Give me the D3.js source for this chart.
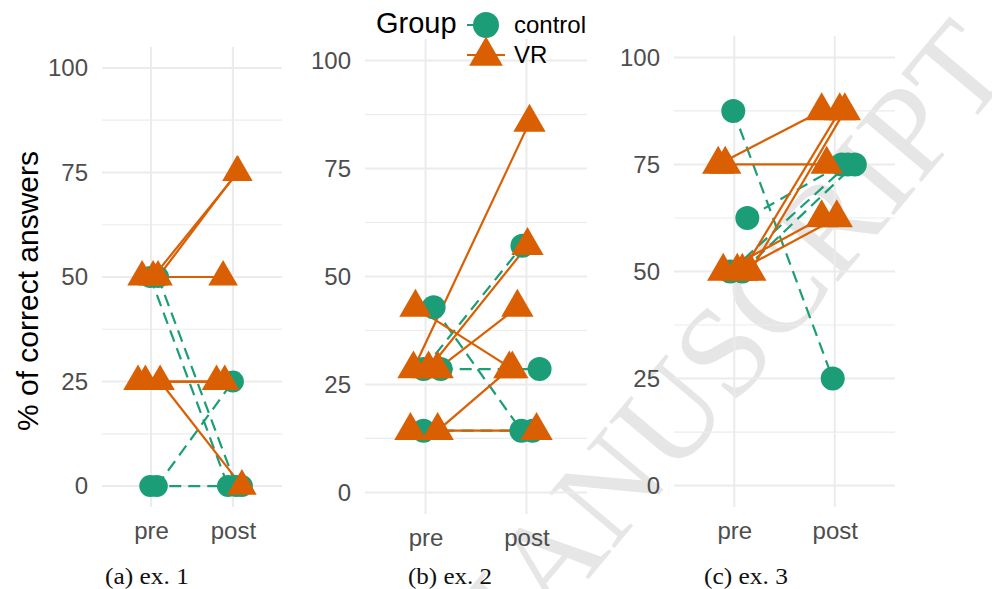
<!DOCTYPE html>
<html><head><meta charset="utf-8">
<script src="https://cdn.jsdelivr.net/npm/d3@7"></script>
<style>html,body{margin:0;padding:0;background:#fff}svg{display:block}</style>
</head><body>
<svg id="chart" width="992" height="589"></svg>
<script>
// ---------- data ----------
const categories = ["pre", "post"];
const yTicks = [0, 25, 50, 75, 100];
const yMinorTicks = [12.5, 37.5, 62.5, 87.5];
const groups = ["control", "VR"];
const captions = ["(a) ex. 1", "(b) ex. 2", "(c) ex. 3"];

// each participant: [pre, post] in % correct
const ex1Control = [[50, 0], [50, 0], [0, 25], [0, 0]];
const ex1VR = [[50, 75], [50, 75], [50, 50], [25, 25], [25, 25], [25, 0]];
const ex2Control = [[42.86, 14.29], [28.57, 57.14], [28.57, 28.57], [14.29, 14.29]];
const ex2VR = [[42.86, 28.57], [28.57, 85.71], [28.57, 57.14], [28.57, 42.86], [14.29, 28.57], [14.29, 14.29]];
const ex3Control = [[87.5, 25], [62.5, 75], [50, 75], [50, 75]];
const ex3VR = [[75, 87.5], [75, 75], [50, 87.5], [50, 87.5], [50, 62.5], [50, 62.5]];

// horizontal jitter (category units): [pre, post]
const ex1ControlJitter = [[-0.01, -0.06], [0.085, 0.04], [0.07, 0.0], [-0.01, 0.11]];
const ex1VRJitter = [[0.085, 0.05], [0.025, 0.06], [-0.11, -0.12], [-0.16, -0.2], [-0.07, -0.1], [0.11, 0.11]];
const ex2ControlJitter = [[0.08, -0.05], [-0.02, -0.04], [0.15, 0.13], [-0.02, 0.06]];
const ex2VRJitter = [[-0.1, -0.14], [-0.12, 0.03], [0.03, 0.01], [0.12, -0.09], [0.12, -0.17], [-0.15, 0.1]];
const ex3ControlJitter = [[-0.01, -0.02], [0.13, 0.07], [-0.04, 0.13], [0.08, 0.2]];
const ex3VRJitter = [[-0.16, -0.13], [-0.09, -0.08], [0.08, 0.05], [0.16, 0.1], [-0.11, -0.13], [0.03, 0.02]];

// ---------- layout / style ----------
const colors = {control: "#1b9e77", VR: "#d95f02"};
const panels = [
  {ctrl: ex1Control, vr: ex1VR, cj: ex1ControlJitter, vj: ex1VRJitter, x0: 102, x1: 282, y0: 47, y1: 507, r: 11, lab: 544, cap: 147},
  {ctrl: ex2Control, vr: ex2VR, cj: ex2ControlJitter, vj: ex2VRJitter, x0: 365, x1: 587, y0: 39, y1: 514, r: 12, lab: 551, cap: 450},
  {ctrl: ex3Control, vr: ex3VR, cj: ex3ControlJitter, vj: ex3VRJitter, x0: 674, x1: 895, y0: 36, y1: 507, r: 12, lab: 544, cap: 746}
];
const sans = "'Liberation Sans', Arial, Helvetica, sans-serif";
const svg = d3.select("#chart");

// watermark
svg.append("text")
  .attr("transform", "translate(713,362) rotate(-50)")
  .attr("text-anchor", "middle")
  .attr("dominant-baseline", "central")
  .style("font-family", "'Liberation Serif', serif")
  .style("font-size", "130px")
  .style("fill", "#e6e6e6")
  .text("MANUSCRIPT");

function tri(cx, cy, R) {
  const a = 1.555 * R, hw = 1.347 * R, b = 0.778 * R;
  return `M${cx},${cy - a}L${cx + hw},${cy + b}L${cx - hw},${cy + b}Z`;
}

panels.forEach((p, pi) => {
  const g = svg.append("g");
  const x = d3.scaleLinear().domain([0.4, 2.6]).range([p.x0, p.x1]);
  const y = d3.scaleLinear().domain([-5, 105]).range([p.y1, p.y0]);

  // grid
  g.selectAll(".minor").data(yMinorTicks).join("line")
    .attr("x1", p.x0).attr("x2", p.x1).attr("y1", d => y(d)).attr("y2", d => y(d))
    .attr("stroke", "#ebebeb").attr("stroke-width", 1.2);
  g.selectAll(".major").data(yTicks).join("line")
    .attr("x1", p.x0).attr("x2", p.x1).attr("y1", d => y(d)).attr("y2", d => y(d))
    .attr("stroke", "#ebebeb").attr("stroke-width", 2);
  g.selectAll(".vmajor").data(categories).join("line")
    .attr("x1", (d, i) => x(i + 1)).attr("x2", (d, i) => x(i + 1))
    .attr("y1", p.y0).attr("y2", p.y1)
    .attr("stroke", "#ebebeb").attr("stroke-width", 2);

  // axes (labels only)
  const ya = g.append("g").attr("transform", `translate(${p.x0},0)`)
    .call(d3.axisLeft(y).tickValues(yTicks).tickSize(0).tickPadding(14));
  ya.select(".domain").remove();
  ya.selectAll("text").style("font-family", sans).style("font-size", "24px").attr("fill", "#4d4d4d");

  const xa = g.append("g").attr("transform", `translate(0,${p.lab - 22})`)
    .call(d3.axisBottom(x).tickValues([1, 2]).tickFormat(d => categories[d - 1]).tickSize(0).tickPadding(0));
  xa.select(".domain").remove();
  xa.selectAll("text").style("font-family", sans).style("font-size", "24px").attr("fill", "#4d4d4d");

  const line = d3.line().x(d => x(d[0])).y(d => y(d[1]));
  const toPts = (vals, jit) => vals.map((v, i) => [[1 + jit[i][0], v[0]], [2 + jit[i][1], v[1]]]);
  const cPts = toPts(p.ctrl, p.cj), vPts = toPts(p.vr, p.vj);

  g.selectAll(".cline").data(cPts).join("path")
    .attr("d", line).attr("fill", "none").attr("stroke", colors.control)
    .attr("stroke-width", 2.2).attr("stroke-dasharray", "12,7");
  g.selectAll(".vline").data(vPts).join("path")
    .attr("d", line).attr("fill", "none").attr("stroke", colors.VR).attr("stroke-width", 2.2);

  g.selectAll(".cpt").data(cPts.flat()).join("circle")
    .attr("cx", d => x(d[0])).attr("cy", d => y(d[1])).attr("r", p.r).attr("fill", colors.control);
  g.selectAll(".vpt").data(vPts.flat()).join("path")
    .attr("d", d => tri(x(d[0]), y(d[1]), p.r)).attr("fill", colors.VR);

  svg.append("text").attr("x", p.cap).attr("y", 584).attr("text-anchor", "middle")
    .attr("textLength", 84).attr("lengthAdjust", "spacingAndGlyphs")
    .style("font-family", "'Liberation Serif', serif").style("font-size", "23px")
    .attr("fill", "#111").text(captions[pi]);
});

// y title
svg.append("text").attr("transform", "translate(38,291) rotate(-90)")
  .attr("text-anchor", "middle").style("font-family", sans).style("font-size", "30px")
  .attr("fill", "#000").text("% of correct answers");

// legend
const lg = svg.append("g");
lg.append("text").attr("x", 376).attr("y", 33).style("font-family", sans).style("font-size", "29px")
  .attr("fill", "#000").text("Group");
groups.forEach((gname, i) => {
  const cy = 25 + i * 30;
  lg.append("line").attr("x1", 467).attr("x2", 505).attr("y1", cy).attr("y2", cy)
    .attr("stroke", colors[gname]).attr("stroke-width", 2)
    .attr("stroke-dasharray", gname === "control" ? "12,7" : null);
  if (gname === "control") {
    lg.append("circle").attr("cx", 486).attr("cy", cy).attr("r", 13).attr("fill", colors[gname]);
  } else {
    lg.append("path").attr("d", tri(486, cy + 1, 12.5)).attr("fill", colors[gname]);
  }
  lg.append("text").attr("x", 514).attr("y", cy + 8).style("font-family", sans).style("font-size", "24px")
    .attr("fill", "#000").text(gname);
});
</script>
</body></html>
